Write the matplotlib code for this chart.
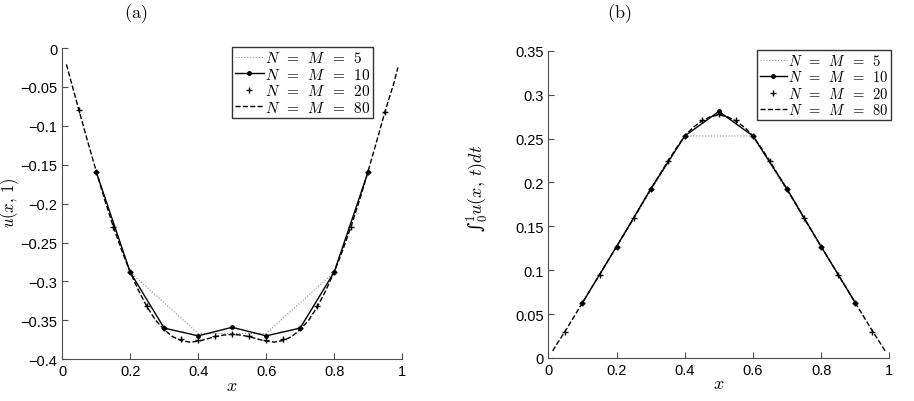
import numpy as np
import matplotlib
matplotlib.use("Agg")
import matplotlib.pyplot as plt

plt.rcParams['mathtext.fontset'] = 'cm'
plt.rcParams['font.family'] = ['Liberation Sans', 'DejaVu Sans']

# ---- panel (a): u(x,1) ----
x5 = [0.2, 0.4, 0.6, 0.8]
a5 = [-0.288, -0.367, -0.367, -0.288]
x10 = [0.1, 0.2, 0.3, 0.4, 0.5, 0.6, 0.7, 0.8, 0.9]
a10 = [-0.159, -0.288, -0.360, -0.370, -0.359, -0.370, -0.360, -0.288, -0.159]
x20 = [0.05, 0.1, 0.15, 0.2, 0.25, 0.3, 0.35, 0.4, 0.45, 0.5,
       0.55, 0.6, 0.65, 0.7, 0.75, 0.8, 0.85, 0.9, 0.95]
a20 = [-0.080, -0.159, -0.230, -0.288, -0.332, -0.360, -0.374, -0.375, -0.370, -0.368,
       -0.370, -0.375, -0.374, -0.360, -0.332, -0.288, -0.230, -0.159, -0.082]
x80 = [0.0125, 0.025, 0.05, 0.075, 0.1, 0.125, 0.15, 0.175, 0.2, 0.225, 0.25,
       0.275, 0.3, 0.325, 0.35, 0.375, 0.4, 0.425, 0.45, 0.475, 0.5,
       0.525, 0.55, 0.575, 0.6, 0.625, 0.65, 0.675, 0.7, 0.725, 0.75,
       0.775, 0.8, 0.825, 0.85, 0.875, 0.9, 0.925, 0.95, 0.975, 0.9875]
a80 = [-0.021, -0.041, -0.081, -0.120, -0.158, -0.195, -0.229, -0.260, -0.288, -0.312, -0.333,
       -0.350, -0.362, -0.371, -0.376, -0.378, -0.377, -0.374, -0.371, -0.369, -0.368,
       -0.369, -0.371, -0.374, -0.377, -0.378, -0.376, -0.371, -0.362, -0.350, -0.333,
       -0.312, -0.288, -0.260, -0.229, -0.195, -0.158, -0.120, -0.081, -0.046, -0.025]

# ---- panel (b): integral of u over t ----
b5 = [0.127, 0.253, 0.253, 0.127]
b10 = [0.063, 0.127, 0.1925, 0.253, 0.281, 0.253, 0.1925, 0.127, 0.063]
b20 = [0.030, 0.063, 0.095, 0.127, 0.159, 0.1925, 0.224, 0.253, 0.271, 0.278,
       0.271, 0.253, 0.224, 0.1925, 0.159, 0.127, 0.095, 0.063, 0.030]
b80 = [0.008, 0.016, 0.031, 0.047, 0.063, 0.079, 0.095, 0.111, 0.127, 0.143, 0.159,
       0.176, 0.1925, 0.208, 0.224, 0.239, 0.253, 0.263, 0.270, 0.275, 0.277,
       0.275, 0.270, 0.263, 0.253, 0.239, 0.224, 0.208, 0.1925, 0.176, 0.159,
       0.143, 0.127, 0.111, 0.095, 0.079, 0.063, 0.047, 0.031, 0.016, 0.008]

labels = [r'$N\enspace=\enspace M\enspace=\enspace 5$', r'$N\enspace=\enspace M\enspace=\enspace 10$',
          r'$N\enspace=\enspace M\enspace=\enspace 20$', r'$N\enspace=\enspace M\enspace=\enspace 80$']

fig = plt.figure(figsize=(9.14, 4.02), dpi=100)
ax1 = fig.add_axes([0.068, 0.104, 0.372, 0.774])
ax2 = fig.add_axes([0.600, 0.107, 0.373, 0.764])


def draw(ax, y5, y10, y20, y80, anchor, lfs):
    ax.plot(x5, y5, ':', color='0.55', lw=0.8, label=labels[0])
    ax.plot(x10, y10, '-', color='k', lw=1.0, marker='.', ms=5, label=labels[1])
    ax.plot(x20, y20, '+', color='k', ms=4, mew=1.0, label=labels[2])
    ax.plot(x80, y80, '--', color='k', lw=1.0, label=labels[3])
    for s in ['top', 'right']:
        ax.spines[s].set_visible(False)
    for s in ['left', 'bottom']:
        ax.spines[s].set_color('0.3')
    ax.tick_params(direction='in', labelsize=10.5, length=4, color='0.3')
    ax.set_xlim(0, 1)
    ax.set_xticks([0, 0.2, 0.4, 0.6, 0.8, 1])
    ax.set_xticklabels(['0', '0.2', '0.4', '0.6', '0.8', '1'])
    ax.set_xlabel(r'$x$', fontsize=13, labelpad=-1)
    leg = ax.legend(loc='upper right', bbox_to_anchor=anchor, fontsize=lfs,
                    frameon=True, fancybox=False, edgecolor='k', labelspacing=0.1,
                    handlelength=1.85, handletextpad=0.1, borderpad=0.2,
                    borderaxespad=0.0)
    leg.get_frame().set_linewidth(1.0)


draw(ax1, a5, a10, a20, a80, (0.915, 1.003), 11)
ax1.set_ylim(-0.4, 0)
ax1.set_yticks([-0.4, -0.35, -0.3, -0.25, -0.2, -0.15, -0.1, -0.05, 0])
ax1.set_yticklabels(['\u22120.4', '\u22120.35', '\u22120.3', '\u22120.25', '\u22120.2',
                     '\u22120.15', '\u22120.1', '\u22120.05', '0'])
ax1.set_ylabel(r'$u(x,\,1)$', fontsize=12)
ax1.yaxis.set_label_coords(-0.121, 0.505)

draw(ax2, b5, b10, b20, b80, (1.006, 1.003), 10.5)
ax2.set_ylim(0, 0.35)
ax2.set_yticks([0, 0.05, 0.1, 0.15, 0.2, 0.25, 0.3, 0.35])
ax2.set_yticklabels(['0', '0.05', '0.1', '0.15', '0.2', '0.25', '0.3', '0.35'])
ax2.set_ylabel('\u222b' + r'${}_0^1 u(x,\,t)dt$', fontsize=13,
               family=['DejaVu Serif'])
ax2.yaxis.set_label_coords(-0.167, 0.555)

fig.text(136 / 914, 1 - 14 / 402, r'$\mathrm{(a)}$', fontsize=13, ha='center', va='center')
fig.text(619 / 914, 1 - 14 / 402, r'$\mathrm{(b)}$', fontsize=13, ha='center', va='center')

fig.savefig('out.png', dpi=100)
